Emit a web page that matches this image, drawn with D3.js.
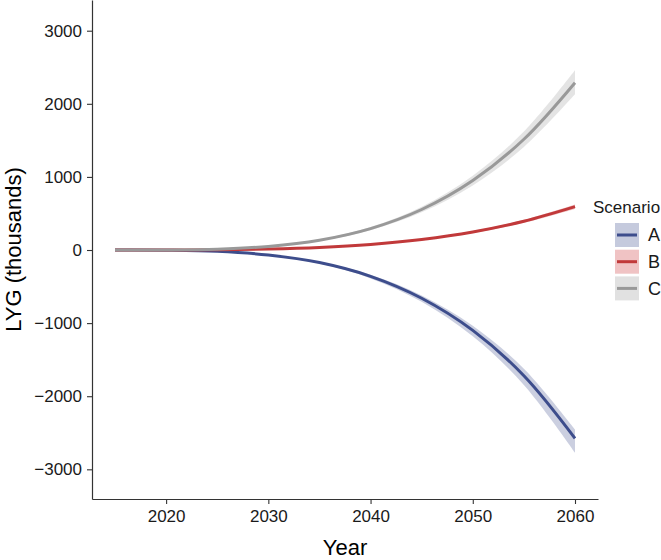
<!DOCTYPE html>
<html>
<head>
<meta charset="utf-8">
<script src="https://cdn.jsdelivr.net/npm/d3@7"></script>
<style>
  body { margin: 0; background: #fff; }
  svg { font-family: "Liberation Sans", Arial, sans-serif; }
</style>
</head>
<body>
<div id="chart"></div>
<script>
// data (LYG, thousands)
const years = [2015, 2020, 2025, 2030, 2035, 2040, 2045, 2050, 2055, 2060];
const scenarios = ["A", "B", "C"];

const aMid = [0, -2, -18, -69, -172, -360, -660, -1100, -1720, -2576];
const aLow = [0, -2, -20, -75, -186, -388, -708, -1180, -1845, -2770];
const aHigh = [0, -2, -17, -65, -162, -340, -622, -1035, -1625, -2455];

const bMid = [0, 0.3, 3, 13, 35, 76, 144, 246, 393, 593];
const bLow = [0, 0.3, 3, 12, 33, 72, 136, 232, 372, 562];
const bHigh = [0, 0.3, 3, 14, 37, 80, 152, 260, 414, 624];

const cMid = [0, 1, 12, 49, 134, 293, 554, 950, 1515, 2289];
const cLow = [0, 1, 11, 45, 124, 272, 515, 884, 1410, 2130];
const cHigh = [0, 1, 13, 53, 144, 314, 593, 1016, 1620, 2460];

const yTicks = [-3000, -2000, -1000, 0, 1000, 2000, 3000];
const xTicks = [2020, 2030, 2040, 2050, 2060];

const lineColors = {A: "#3d4d8c", B: "#c1393a", C: "#999999"};
const fillColors = {A: "#c5cadd", B: "#f0c3c4", C: "#e1e1e1"};

const width = 661, height = 560;
const plot = {left: 92, right: 598, top: 0, bottom: 499};

const svg = d3.select("#chart").append("svg")
    .attr("width", width)
    .attr("height", height);

const x = d3.scaleLinear().domain([2012.75, 2062.25]).range([plot.left, plot.right]);
const y = d3.scaleLinear().domain([-3406, 3420]).range([plot.bottom, plot.top]);

const series = [
    {key: "A", mid: aMid, low: aLow, high: aHigh},
    {key: "B", mid: bMid, low: bLow, high: bHigh},
    {key: "C", mid: cMid, low: cLow, high: cHigh}
].map(s => ({
    key: s.key,
    pts: years.map((yr, i) => ({year: yr, mid: s.mid[i], low: s.low[i], high: s.high[i]}))
}));

const curve = d3.curveCatmullRom.alpha(0.5);

const area = d3.area()
    .curve(curve)
    .x(d => x(d.year))
    .y0(d => y(d.low))
    .y1(d => y(d.high));

const line = d3.line()
    .curve(curve)
    .x(d => x(d.year))
    .y(d => y(d.mid));

// ribbons
svg.append("g").selectAll("path")
    .data(series)
    .join("path")
    .attr("d", d => area(d.pts))
    .attr("fill", d => fillColors[d.key])
    .attr("opacity", 0.9);

// lines
svg.append("g").selectAll("path")
    .data(series)
    .join("path")
    .attr("d", d => line(d.pts))
    .attr("fill", "none")
    .attr("stroke", d => lineColors[d.key])
    .attr("stroke-width", 3);

// axes
const yAxis = svg.append("g")
    .attr("transform", `translate(${plot.left},0)`)
    .call(d3.axisLeft(y).tickValues(yTicks).tickFormat(d3.format("d"))
        .tickSize(5).tickSizeOuter(0).tickPadding(5));

const xAxis = svg.append("g")
    .attr("transform", `translate(0,${plot.bottom})`)
    .call(d3.axisBottom(x).tickValues(xTicks).tickFormat(d3.format("d"))
        .tickSize(5).tickSizeOuter(0).tickPadding(6));

[yAxis, xAxis].forEach(g => {
    g.select(".domain").attr("stroke", "#333").attr("stroke-width", 1.2);
    g.selectAll(".tick line").attr("stroke", "#333").attr("stroke-width", 1.1);
    g.selectAll(".tick text").attr("fill", "#1a1a1a").style("font-size", "17px");
});

// axis titles
svg.append("text")
    .attr("x", (plot.left + plot.right) / 2)
    .attr("y", 555)
    .attr("text-anchor", "middle")
    .style("font-size", "22px")
    .attr("fill", "#000")
    .text("Year");

svg.append("text")
    .attr("transform", `translate(21,${(plot.top + plot.bottom) / 2}) rotate(-90)`)
    .attr("text-anchor", "middle")
    .style("font-size", "22px")
    .attr("fill", "#000")
    .text("LYG (thousands)");

// legend
const legend = svg.append("g").attr("transform", "translate(593,213)");
legend.append("text")
    .attr("x", 0).attr("y", 0)
    .style("font-size", "17px")
    .attr("fill", "#1a1a1a")
    .text("Scenario");

const keys = legend.selectAll("g.key")
    .data(scenarios)
    .join("g")
    .attr("class", "key")
    .attr("transform", (d, i) => `translate(22,${10 + i * 26.7})`);

keys.append("rect")
    .attr("width", 24).attr("height", 24)
    .attr("fill", d => fillColors[d]);

keys.append("line")
    .attr("x1", 2).attr("x2", 22)
    .attr("y1", 12).attr("y2", 12)
    .attr("stroke", d => lineColors[d])
    .attr("stroke-width", 3);

keys.append("text")
    .attr("x", 33).attr("y", 12)
    .attr("dy", "0.36em")
    .style("font-size", "18px")
    .attr("fill", "#1a1a1a")
    .text(d => d);
</script>
</body>
</html>
